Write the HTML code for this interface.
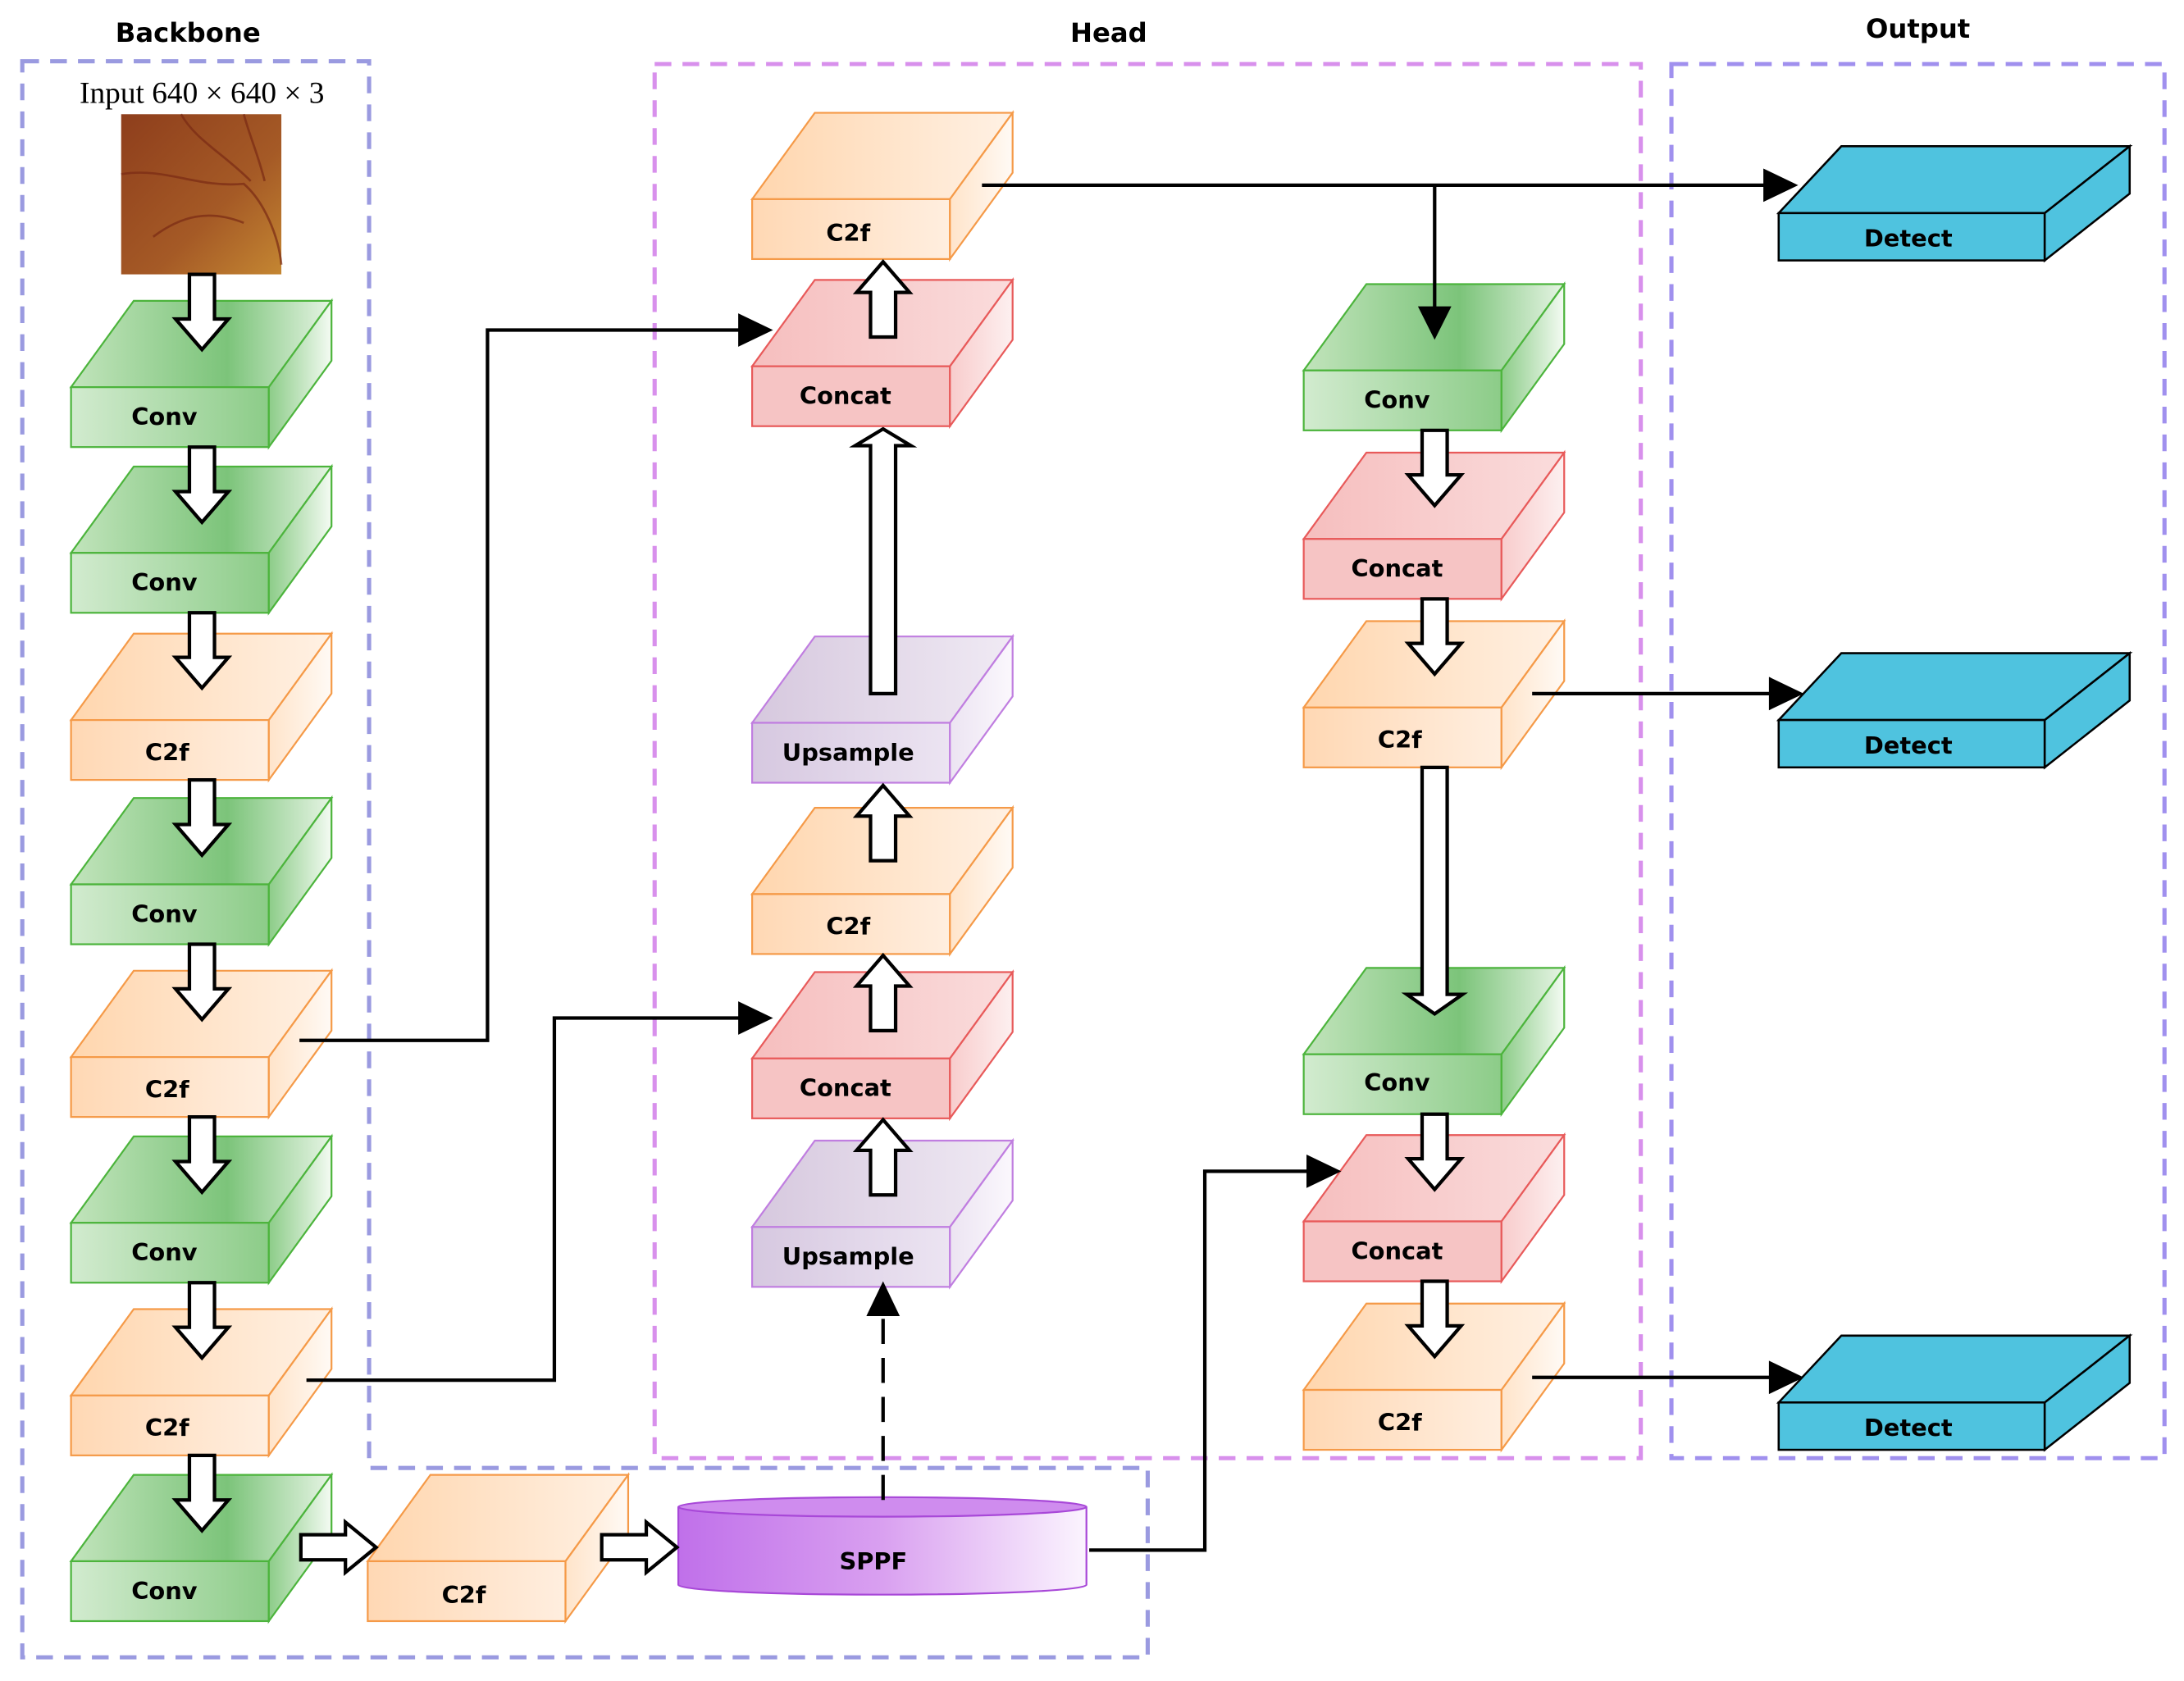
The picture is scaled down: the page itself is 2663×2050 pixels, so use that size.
<!DOCTYPE html>
<html><head><meta charset="utf-8"><style>html,body{margin:0;padding:0;background:#fff}svg{display:block}</style></head><body>
<svg width="2663" height="2050" viewBox="0 0 1568 1207" preserveAspectRatio="none" xmlns="http://www.w3.org/2000/svg" font-family="DejaVu Sans, Liberation Sans, sans-serif">
<defs>
<linearGradient id="gT" x1="0" x2="1"><stop offset="0" stop-color="#c2e4bc"/><stop offset="0.6" stop-color="#7cc47a"/><stop offset="1" stop-color="#e6f4e4"/></linearGradient>
<linearGradient id="gF" x1="0" x2="1"><stop offset="0" stop-color="#d2ebcf"/><stop offset="1" stop-color="#8ccc88"/></linearGradient>
<linearGradient id="gS" x1="0" x2="1"><stop offset="0" stop-color="#8ccc88"/><stop offset="1" stop-color="#f4fbf3"/></linearGradient>
<linearGradient id="oT" x1="0" x2="1"><stop offset="0" stop-color="#ffd6ae"/><stop offset="1" stop-color="#fff1e4"/></linearGradient>
<linearGradient id="oF" x1="0" x2="1"><stop offset="0" stop-color="#ffd8b4"/><stop offset="1" stop-color="#ffeedf"/></linearGradient>
<linearGradient id="oS" x1="0" x2="1"><stop offset="0" stop-color="#ffe4ca"/><stop offset="1" stop-color="#fffaf5"/></linearGradient>
<linearGradient id="rT" x1="0" x2="1"><stop offset="0" stop-color="#f6bebe"/><stop offset="1" stop-color="#fadcdc"/></linearGradient>
<linearGradient id="rS" x1="0" x2="1"><stop offset="0" stop-color="#f8cccc"/><stop offset="1" stop-color="#fdf0f0"/></linearGradient>
<linearGradient id="pT" x1="0" x2="1"><stop offset="0" stop-color="#d6c8de"/><stop offset="1" stop-color="#f0eaf4"/></linearGradient>
<linearGradient id="pF" x1="0" x2="1"><stop offset="0" stop-color="#d6c8e0"/><stop offset="1" stop-color="#ece4f2"/></linearGradient>
<linearGradient id="pS" x1="0" x2="1"><stop offset="0" stop-color="#ece4f2"/><stop offset="1" stop-color="#fbf8fd"/></linearGradient>
<linearGradient id="cy" x1="0" x2="1"><stop offset="0" stop-color="#c070ea"/><stop offset="0.5" stop-color="#d9a0f0"/><stop offset="1" stop-color="#fbf4fe"/></linearGradient>
<linearGradient id="img" x1="0" y1="0" x2="1" y2="1"><stop offset="0" stop-color="#8e3e1c"/><stop offset="0.6" stop-color="#a55a26"/><stop offset="1" stop-color="#c48632"/></linearGradient>
<g id="G"><polygon points="0,0 45,-62 187,-62 142,0" fill="url(#gT)" stroke="#4cb43c" stroke-width="1.3"/><rect x="0" y="0" width="142" height="43" fill="url(#gF)" stroke="#4cb43c" stroke-width="1.3"/><polygon points="142,0 187,-62 187,-19 142,43" fill="url(#gS)" stroke="#4cb43c" stroke-width="1.3"/></g>
<g id="O"><polygon points="0,0 45,-62 187,-62 142,0" fill="url(#oT)" stroke="#f59a48" stroke-width="1.3"/><rect x="0" y="0" width="142" height="43" fill="url(#oF)" stroke="#f59a48" stroke-width="1.3"/><polygon points="142,0 187,-62 187,-19 142,43" fill="url(#oS)" stroke="#f59a48" stroke-width="1.3"/></g>
<g id="R"><polygon points="0,0 45,-62 187,-62 142,0" fill="url(#rT)" stroke="#e85a5a" stroke-width="1.3"/><rect x="0" y="0" width="142" height="43" fill="#f6c4c4" stroke="#e85a5a" stroke-width="1.3"/><polygon points="142,0 187,-62 187,-19 142,43" fill="url(#rS)" stroke="#e85a5a" stroke-width="1.3"/></g>
<g id="P"><polygon points="0,0 45,-62 187,-62 142,0" fill="url(#pT)" stroke="#c07ee0" stroke-width="1.3"/><rect x="0" y="0" width="142" height="43" fill="url(#pF)" stroke="#c07ee0" stroke-width="1.3"/><polygon points="142,0 187,-62 187,-19 142,43" fill="url(#pS)" stroke="#c07ee0" stroke-width="1.3"/></g>
<g id="D"><polygon points="0,0 45,-48 252,-48 191,0" fill="#4fc3df" stroke="#000" stroke-width="1.5"/><rect x="0" y="0" width="191" height="34" fill="#4fc3df" stroke="#000" stroke-width="1.5"/><polygon points="191,0 252,-48 252,-14 191,34" fill="#4fc3df" stroke="#000" stroke-width="1.5"/></g>
<g id="AD"><polygon points="-9,0 9,0 9,32 19,32 0,54 -19,32 -9,32" fill="#fff" stroke="#000" stroke-width="2.5"/></g>
<g id="AU"><polygon points="-9,0 9,0 9,-32 19,-32 0,-54 -19,-32 -9,-32" fill="#fff" stroke="#000" stroke-width="2.5"/></g>
</defs>

<path d="M16,44 H265 V1054 H824 V1190 H16 Z" fill="none" stroke="#9a9ae0" stroke-width="3" stroke-dasharray="12,8"/>
<rect x="470" y="46" width="708" height="1001" fill="none" stroke="#d890ec" stroke-width="3" stroke-dasharray="12,8"/>
<rect x="1200" y="46" width="354" height="1001" fill="none" stroke="#a090ee" stroke-width="3" stroke-dasharray="12,8"/>
<g font-weight="bold" font-size="19" text-anchor="middle"><text x="135" y="30">Backbone</text><text x="796" y="30">Head</text><text x="1377" y="27">Output</text></g>
<text x="145" y="74" font-family="Liberation Serif, serif" font-size="22" text-anchor="middle">Input 640 × 640 × 3</text>
<rect x="87" y="82" width="115" height="115" fill="url(#img)"/>
<g fill="none" stroke="#7a2a14" stroke-width="1.6" opacity="0.7"><path d="M87,125 C120,120 140,135 175,132 C190,145 200,170 202,190"/><path d="M130,82 C140,100 160,110 180,130"/><path d="M175,82 C180,100 185,110 190,130"/><path d="M110,170 C130,155 150,150 175,160"/></g>

<use href="#G" x="51" y="278"/><use href="#G" x="51" y="397"/><use href="#O" x="51" y="517"/><use href="#G" x="51" y="635"/><use href="#O" x="51" y="759"/><use href="#G" x="51" y="878"/><use href="#O" x="51" y="1002"/><use href="#G" x="51" y="1121"/>
<use href="#O" x="264" y="1121"/>
<use href="#O" x="540" y="143"/><use href="#R" x="540" y="263"/><use href="#P" x="540" y="519"/><use href="#O" x="540" y="642"/><use href="#R" x="540" y="760"/><use href="#P" x="540" y="881"/>
<use href="#G" x="936" y="266"/><use href="#R" x="936" y="387"/><use href="#O" x="936" y="508"/><use href="#G" x="936" y="757"/><use href="#R" x="936" y="877"/><use href="#O" x="936" y="998"/>
<use href="#D" x="1277" y="153"/><use href="#D" x="1277" y="517"/><use href="#D" x="1277" y="1007"/>

<path d="M487,1082 V1138 A146.5,7 0 0 0 780,1138 V1082" fill="url(#cy)" stroke="#a848d8" stroke-width="1.3"/>
<ellipse cx="633.5" cy="1082" rx="146.5" ry="7" fill="#cf8cee" stroke="#a848d8" stroke-width="1.3"/>

<g font-weight="bold" font-size="17" text-anchor="middle">
<text x="118" y="305">Conv</text><text x="118" y="424">Conv</text><text x="120" y="546">C2f</text><text x="118" y="662">Conv</text><text x="120" y="788">C2f</text><text x="118" y="905">Conv</text><text x="120" y="1031">C2f</text><text x="118" y="1148">Conv</text>
<text x="333" y="1151">C2f</text>
<text x="609" y="173">C2f</text><text x="607" y="290">Concat</text><text x="609" y="546">Upsample</text><text x="609" y="671">C2f</text><text x="607" y="787">Concat</text><text x="609" y="908">Upsample</text>
<text x="1003" y="293">Conv</text><text x="1003" y="414">Concat</text><text x="1005" y="537">C2f</text><text x="1003" y="783">Conv</text><text x="1003" y="904">Concat</text><text x="1005" y="1027">C2f</text>
<text x="1370" y="177">Detect</text><text x="1370" y="541">Detect</text><text x="1370" y="1031">Detect</text>
<text x="627" y="1127">SPPF</text>
</g>

<use href="#AD" x="145" y="197"/><use href="#AD" x="145" y="321"/><use href="#AD" x="145" y="440"/><use href="#AD" x="145" y="560"/><use href="#AD" x="145" y="678"/><use href="#AD" x="145" y="802"/><use href="#AD" x="145" y="921"/><use href="#AD" x="145" y="1045"/>
<polygon points="216,1102 248,1102 248,1093 270,1111 248,1129 248,1120 216,1120" fill="#fff" stroke="#000" stroke-width="2.5"/>
<polygon points="432,1102 464,1102 464,1093 486,1111 464,1129 464,1120 432,1120" fill="#fff" stroke="#000" stroke-width="2.5"/>
<use href="#AU" x="634" y="858"/><use href="#AU" x="634" y="740"/><use href="#AU" x="634" y="618"/><use href="#AU" x="634" y="242"/>
<polygon points="625,498 643,498 643,320 654,320 634,308 614,320 625,320" fill="#fff" stroke="#000" stroke-width="2.5"/>
<use href="#AD" x="1030" y="309"/><use href="#AD" x="1030" y="430"/><use href="#AD" x="1030" y="800"/><use href="#AD" x="1030" y="920"/>
<polygon points="1021,551 1039,551 1039,714 1050,714 1030,728 1010,714 1021,714" fill="#fff" stroke="#000" stroke-width="2.5"/>

<g fill="none" stroke="#000" stroke-width="2.5">
<path d="M215,747 H350 V237 H532"/>
<path d="M220,991 H398 V731 H532"/>
<path d="M782,1113 H865 V841 H940"/>
<path d="M634,1077 V945" stroke-dasharray="18,10"/>
<path d="M705,133 H1268"/>
<path d="M1030,133 V222"/>
<path d="M1100,498 H1272"/>
<path d="M1100,989 H1272"/>
</g>
<g fill="#000">
<polygon points="530,225 555,237 530,249"/>
<polygon points="530,719 555,731 530,743"/>
<polygon points="938,829 963,841 938,853"/>
<polygon points="622,945 634,920 646,945"/>
<polygon points="1266,121 1291,133 1266,145"/>
<polygon points="1018,220 1030,244 1042,220"/>
<polygon points="1270,486 1295,498 1270,510"/>
<polygon points="1270,977 1295,989 1270,1001"/>
</g>
</svg>
</body></html>
